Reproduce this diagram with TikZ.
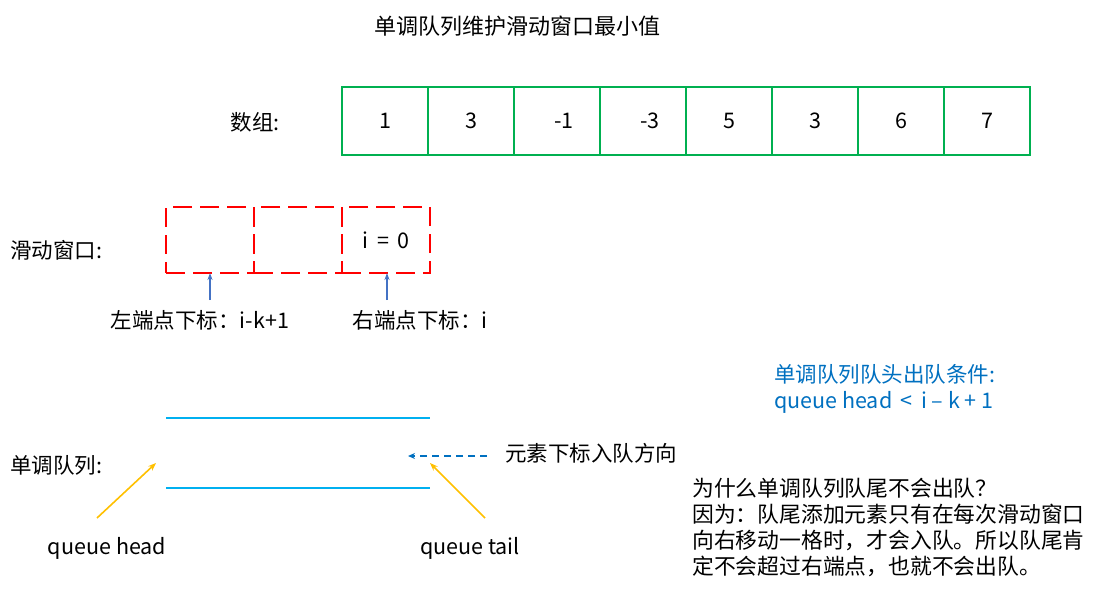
\documentclass[tikz,border=0pt]{standalone}
\usepackage{fontspec}
\setmainfont{Noto Sans CJK SC}
\usetikzlibrary{arrows.meta,positioning}
\definecolor{arrgreen}{RGB}{0,176,80}
\definecolor{winred}{RGB}{255,0,0}
\definecolor{idxblue}{RGB}{68,114,196}
\definecolor{qcyan}{RGB}{0,176,240}
\definecolor{pushblue}{RGB}{0,112,192}
\definecolor{ptryellow}{RGB}{255,192,0}

\begin{document}
\begin{tikzpicture}[
  x=1pt, y=-1pt,
  font=\fontsize{21.5}{26}\selectfont,
  >=Stealth,
  cell/.style={rectangle, draw=arrgreen, line width=2pt, minimum width=86pt, minimum height=68pt, inner sep=0pt, outer sep=0pt},
  wincell/.style={rectangle, draw=winred, line width=2.6pt, dash pattern=on 19pt off 8pt, minimum width=88pt, minimum height=66pt, inner sep=0pt, outer sep=0pt},
  idxarrow/.style={->, draw=idxblue, line width=1.3pt, -{Stealth[length=7pt,width=5pt]}},
  qline/.style={draw=qcyan, line width=1.8pt},
  ptrarrow/.style={draw=ptryellow, line width=1.6pt, -{Stealth[length=8pt,width=6pt]}},
  pusharrow/.style={draw=pushblue, line width=1.6pt, dashed, dash pattern=on 7pt off 5pt, -{Stealth[length=7pt,width=6pt]}},
]
\useasboundingbox (0,0) rectangle (1120,610);
% title
\node[font=\fontsize{22}{26}\selectfont] (title) at (517,26) {单调队列维护滑动窗口最小值};
% array
\node (arrlbl) at (255,122) {数组:};
\node[cell] (a1) at (385,121) {1};
\node[cell, right=0pt of a1] (a2) {3};
\node[cell, right=0pt of a2] (a3) {\hspace{14pt}-1};
\node[cell, right=0pt of a3] (a4) {\hspace{14pt}-3};
\node[cell, right=0pt of a4] (a5) {5};
\node[cell, right=0pt of a5] (a6) {3};
\node[cell, right=0pt of a6] (a7) {6};
\node[cell, right=0pt of a7] (a8) {7};
% sliding window
\node[anchor=west, inner sep=0pt] (winlbl) at (10,250) {滑动窗口:};
\node[wincell] (w1) at (210,240) {};
\node[wincell, right=0pt of w1] (w2) {};
\node[wincell, right=0pt of w2] (w3) {i \,=\, 0};
\node (leftidx) at (200,320) {左端点下标：i-k+1};
\node (rightidx) at (420,320) {右端点下标：i};
\coordinate (lt) at (210,300);
\coordinate (rt) at (387,300);
\draw[idxarrow] (lt) -- (lt |- w1.south);
\draw[idxarrow] (rt) -- (rt |- w3.south);
% monotonic queue
\node[anchor=west, inner sep=0pt] (qlbl) at (10,465) {单调队列:};
\coordinate (qtopl) at (166,418);
\coordinate (qtopr) at (430,418);
\coordinate (qbotl) at (166,488);
\coordinate (qbotr) at (430,488);
\draw[qline] (qtopl) -- (qtopr);
\draw[qline] (qbotl) -- (qbotr);
\node[anchor=west, inner sep=0pt] (push) at (505,453) {元素下标入队方向};
\coordinate (pushs) at (487,456);
\coordinate (pushe) at (408,456);
\draw[pusharrow] (pushs) -- (pushe);
\node (qhead) at (107,548) {queue head};
\node (qtail) at (470,548) {queue tail};
\coordinate (hs) at (97,518);
\coordinate (he) at (156,463);
\coordinate (ts) at (485,518);
\coordinate (te) at (430,463);
\draw[ptrarrow] (hs) -- (he);
\draw[ptrarrow] (ts) -- (te);
% notes
\node[anchor=west, align=left, text=pushblue, inner sep=0pt] (cond) at (774,389) {单调队列队头出队条件:\\queue head \,<\, i – k + 1};
\node[anchor=north west, align=left, inner sep=0pt, font=\fontsize{21.8}{26}\selectfont] (why) at (692,478) {为什么单调队列队尾不会出队？\\因为：队尾添加元素只有在每次滑动窗口\\向右移动一格时，才会入队。所以队尾肯\\定不会超过右端点，也就不会出队。};
\end{tikzpicture}
\end{document}
